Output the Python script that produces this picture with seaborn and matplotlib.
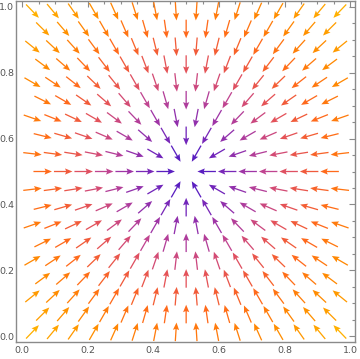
import numpy as np
import pandas as pd
import matplotlib
matplotlib.use("Agg")
import matplotlib.pyplot as plt
import seaborn as sns
from matplotlib.colors import LinearSegmentedColormap

# Hexagonal sample grid of the vector field v(x, y) = (0.5 - x, 0.5 - y)
row_offsets = list(range(-9, 10))             # row index k, y = 0.5 + k*h
row_step = np.sqrt(3) / 32                    # vertical spacing of rows
x_even = [j / 16 for j in range(1, 16)]       # rows with even k
x_odd = [(j + 0.5) / 16 for j in range(0, 16)]  # rows with odd k
center = (0.5, 0.5)

# colour stops by vector magnitude (purple near the sink -> amber far away)
mag_stops = [0.0625, 0.125, 0.1875, 0.25, 0.3125, 0.375, 0.4375, 0.55, 0.69]
color_stops = ["#5a1ec0", "#7a28b8", "#a035a5", "#c04490", "#e05060",
               "#f05a3c", "#ff6a1a", "#ff8a00", "#ffb400"]

xticks = [0.0, 0.2, 0.4, 0.6, 0.8, 1.0]
xticklabels = ["0.0", "0.2", "0.4", "0.6", "0.8", "1.0"]

rows = []
for k in row_offsets:
    y = 0.5 + k * row_step
    xs = x_even if k % 2 == 0 else x_odd
    for x in xs:
        u, v = center[0] - x, center[1] - y
        m = np.hypot(u, v)
        if m < 1e-9:
            continue
        rows.append((x, y, u, v, m))
df = pd.DataFrame(rows, columns=["x", "y", "u", "v", "m"])

sns.set_style("white")
plt.rcParams['font.family'] = ['DejaVu Sans']

fig = plt.figure(figsize=(3.6, 3.59), dpi=100)
ax = fig.add_axes([16/360, 1 - 342/359, (355-16)/360, (342-1)/359])

pos = [(s - mag_stops[0]) / (mag_stops[-1] - mag_stops[0]) for s in mag_stops]
cmap = LinearSegmentedColormap.from_list("field", list(zip(pos, color_stops)))
norm = plt.Normalize(mag_stops[0], mag_stops[-1])

L = 0.0565
ax.quiver(df["x"], df["y"], df["u"] / df["m"] * L, df["v"] / df["m"] * L,
          color=cmap(norm(df["m"].values)),
          angles="xy", scale_units="xy", scale=1, pivot="middle",
          width=0.0038, headwidth=4.8, headlength=5.8, headaxislength=5.0)

ax.set_xlim(-0.019, 1.015)
ax.set_ylim(-0.018, 1.018)

spine_c = "#8a8a8a"
for s in ax.spines.values():
    s.set_visible(True)
    s.set_color(spine_c)
    s.set_linewidth(1.0)

ax.set_xticks(xticks)
ax.set_xticklabels(xticklabels)
ax.set_yticks(xticks)
ax.set_yticklabels(xticklabels)
ax.set_xticks(np.arange(0, 1.0001, 0.05), minor=True)
ax.set_yticks(np.arange(0, 1.0001, 0.05), minor=True)
ax.tick_params(which="both", direction="in", top=True, right=True,
               color=spine_c, width=0.8)
ax.tick_params(which="major", length=4, labelsize=6.8, labelcolor="#555555")
ax.tick_params(axis="x", which="major", pad=3)
ax.tick_params(axis="y", which="major", pad=1.2)
ax.tick_params(which="minor", length=2.2)

fig.savefig("out.png", dpi=100)
